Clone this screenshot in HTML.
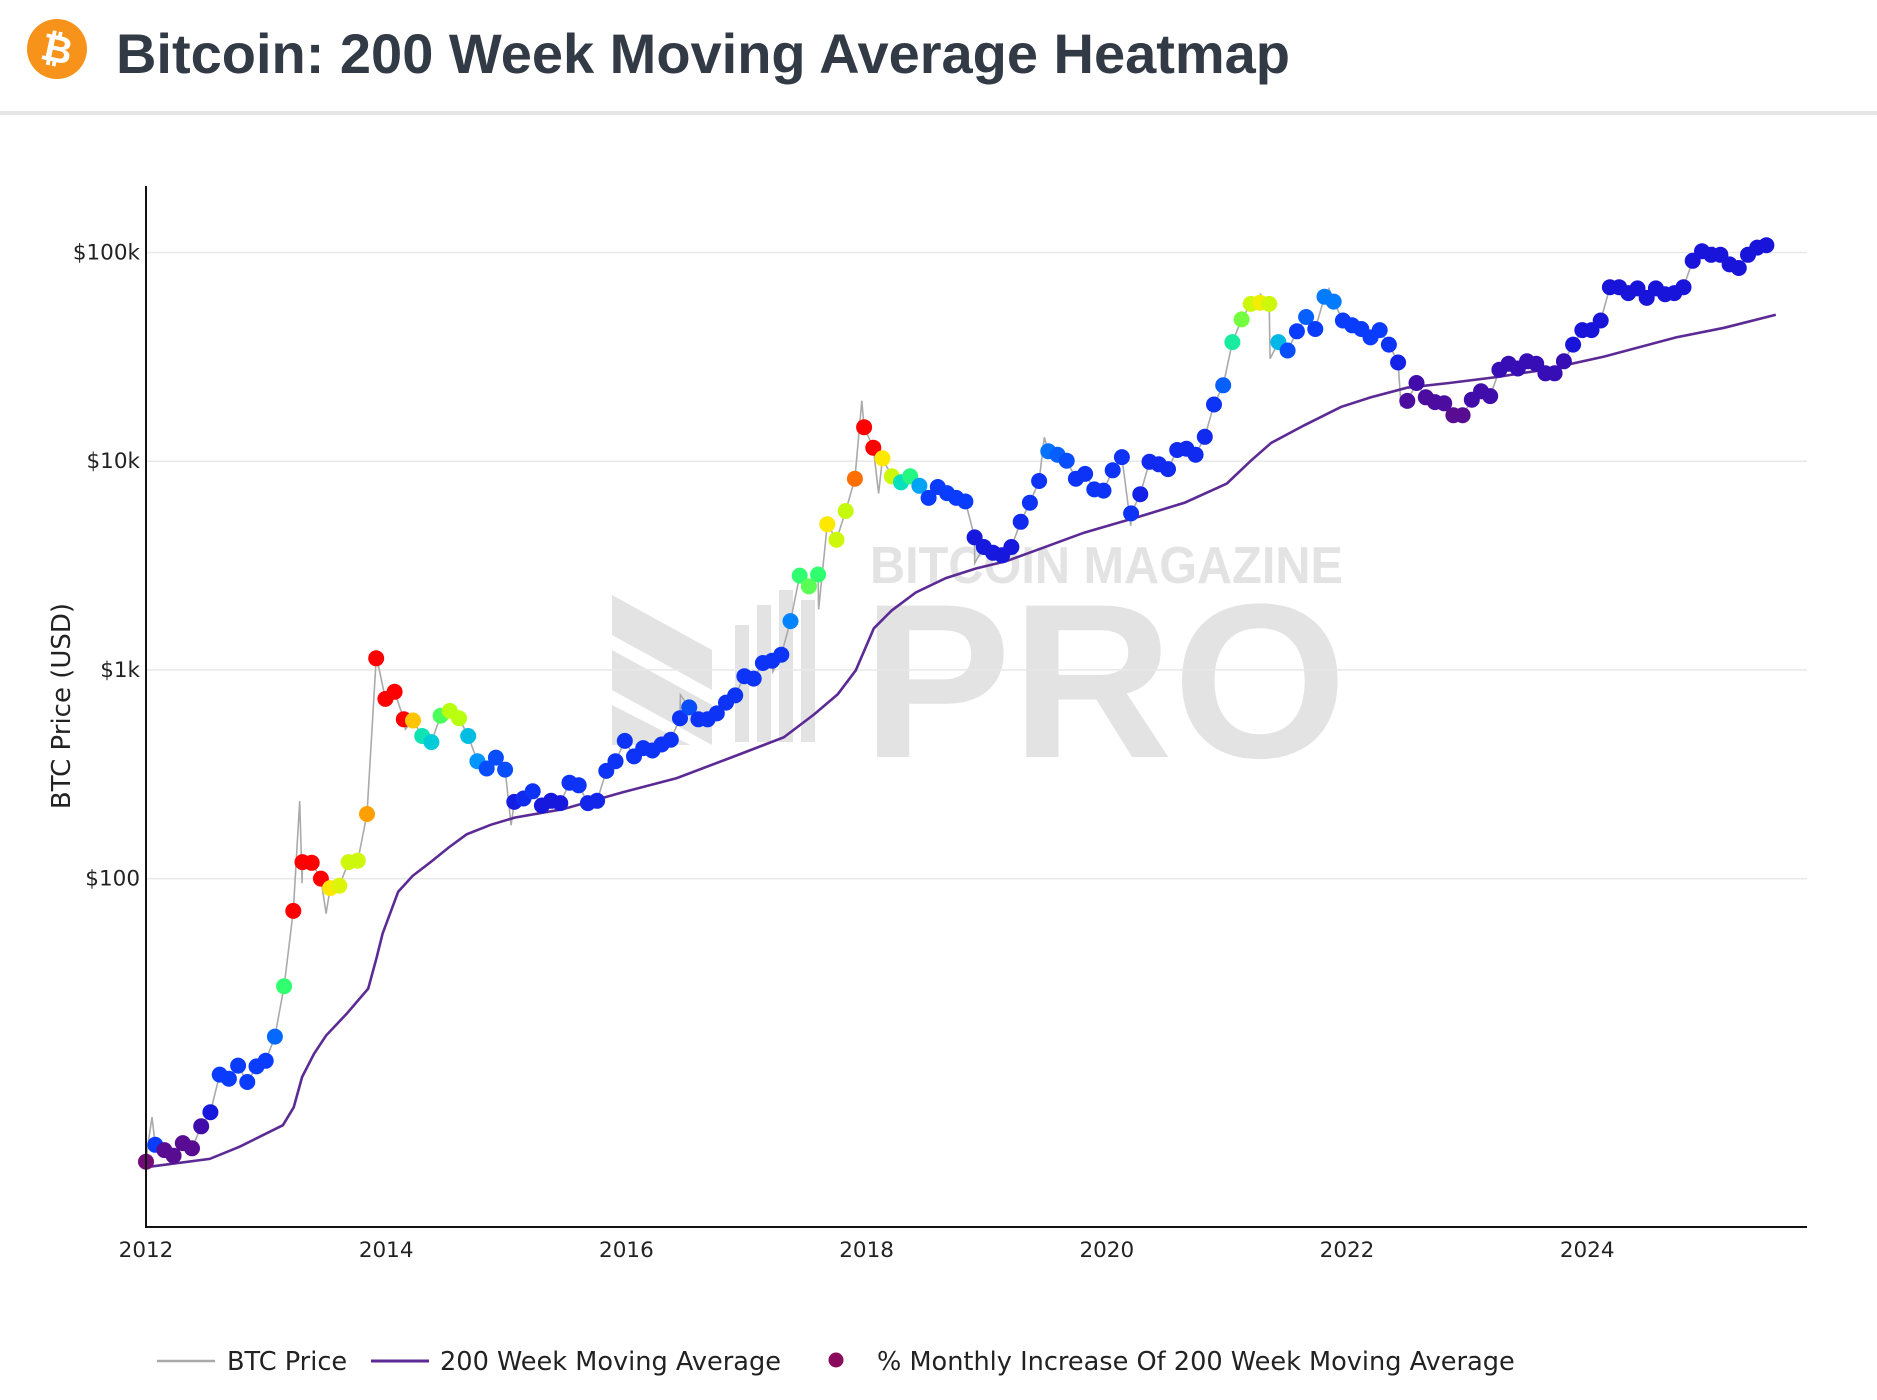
<!DOCTYPE html>
<html><head><meta charset="utf-8"><style>
html,body{margin:0;padding:0;background:#fff;}
svg{display:block;font-family:"DejaVu Sans","Liberation Sans",Arial,sans-serif;}
.title{font-family:"Liberation Sans",Arial,sans-serif;}
</style></head><body>
<svg id="chart" width="1877" height="1400" viewBox="0 0 1877 1400" xmlns="http://www.w3.org/2000/svg">
<g>
<circle cx="57" cy="49" r="30" fill="#f7931a"/>
<text class="title" x="57" y="62" font-size="38" font-weight="bold" fill="#fff" text-anchor="middle" transform="rotate(12 57 49)">₿</text>
<text class="title" x="116" y="73" font-size="56" font-weight="bold" fill="#323a45" textLength="1174" lengthAdjust="spacingAndGlyphs">Bitcoin: 200 Week Moving Average Heatmap</text>
<rect x="0" y="111" width="1877" height="4" fill="#e6e6e6"/>
</g>
<g fill="#e3e3e3">
<polygon points="612,595 712,650 712,690 612,635"/>
<polygon points="612,650 712,705 712,745 612,690"/>
<polygon points="612,705 690,745 612,745"/>
<rect x="735" y="625" width="14" height="117"/><rect x="757" y="605" width="14" height="137"/><rect x="779" y="590" width="14" height="152"/><rect x="801" y="600" width="14" height="142"/>
<text class="title" x="870" y="583" font-size="52" font-weight="bold" textLength="473" lengthAdjust="spacingAndGlyphs">BITCOIN MAGAZINE</text>
<text class="title" x="862" y="757" font-size="220" font-weight="bold" textLength="485" lengthAdjust="spacingAndGlyphs">PRO</text>
</g>
<g id="grid"></g>
<g id="lines"></g>
<g id="dots"></g>
<g id="axes"></g>
<text x="0" y="0" font-size="26" fill="#222" text-anchor="middle" transform="translate(70 706) rotate(-90)">BTC Price (USD)</text>
<g>
<g><line x1="157" y1="1361" x2="215" y2="1361" stroke="#aaa" stroke-width="2.5"/><text x="227" y="1370" font-size="25.6" fill="#222">BTC Price</text></g>
<g><line x1="371" y1="1361" x2="429" y2="1361" stroke="#5b2a94" stroke-width="3"/><text x="440" y="1370" font-size="25.6" fill="#222">200 Week Moving Average</text></g>
<g><circle cx="836" cy="1360" r="7.5" fill="#8a0a5c"/><text x="877" y="1370" font-size="25.6" fill="#222">% Monthly Increase Of 200 Week Moving Average</text></g>
</g>
</svg>
<script>
// ---- data ----
const dotStartYear = 2012.0;
const dotStepDays = 28;
const dotPrices = [4.4,5.3,5.0,4.7,5.4,5.1,6.5,7.6,11.5,11.0,12.7,10.6,12.6,13.4,17.5,30.5,70,120,119,100,90,92.5,120,122,204,
1137,726,785,580,572,482,451,603,636,587,482,365,337,380,333,233,242,262,224,236,230,288,280,230,236,
328,365,457,385,422,411,439,463,587,661,580,580,619,697,755,933,908,1079,1107,1183,1713,2830,2512,2864,4990,
4205,5770,8240,14550,11610,10320,8470,7925,8470,7620,6670,7520,7030,6670,6410,4315,3880,3640,3540,3880,5125,6325,8035,11170,10740,
10050,8240,8690,7330,7230,9040,10460,5620,6950,9930,9665,9165,11320,11480,10740,13090,18700,23100,37200,47800,56700,57500,56700,37200,33900,
41900,49100,43000,61400,58200,47200,44800,43000,39200,42500,36200,29700,19460,23700,20230,19190,18950,16610,16610,19720,21630,20510,27420,29310,27800,
30100,29310,26370,26370,30100,36200,42500,42500,47200,68200,68200,63900,67300,60600,67300,63100,63900,68200,91200,101400,97500,97500,87700,84300,97500,
105500,108400];
const dotHeat = [0.2,2,0.4,0.4,0.4,0.4,0.6,1.2,2,2,2,2,2,2,2.5,5,10,10,10,10,7,6.5,6.3,6.3,8,
10,10,10,10,7.5,4.3,3.8,5.2,6,6,3.6,3,2.2,2.2,2.2,1.3,1.6,1.8,1.2,1.2,1.2,1.8,1.8,1.5,1.5,
1.8,1.8,1.8,1.8,1.8,1.8,1.8,1.8,1.8,2.2,1.8,1.8,1.8,1.8,1.8,1.8,1.8,1.8,1.8,1.8,2.8,5,5.3,5,7,
6.3,6.2,8.5,10,10,7,6.3,4.2,4.8,3.2,2,2,2,2,2,1.2,1.2,1.2,1.2,1.2,1.6,1.8,1.8,2.6,2.4,
2.2,1.8,1.8,1.8,1.8,1.8,1.8,1.8,1.4,1.6,1.6,1.6,1.6,1.6,1.6,1.6,1.8,2.4,4.5,5.5,6.3,6.8,6.3,3.5,2.2,
2,2.4,2,2.7,2.7,2,2,2,2,2,1.8,1.4,0.5,0.6,0.5,0.5,0.5,0.4,0.4,0.6,0.6,0.6,0.7,0.7,0.7,
0.7,0.7,0.7,0.7,0.7,1.1,1.1,1.1,1.1,1.1,1.1,1.1,1.1,1.1,1.1,1.1,1.1,1.1,1.1,1.1,1.1,1.1,1.1,1.1,1.1,
1.1,1.1];
const spikeYears = [2012.02,2012.05,2013.28,2013.30,2013.50,2013.92,2014.16,2015.04,2016.45,2017.22,2017.60,2017.96,2018.10,2018.9,2019.48,2020.2,2021.28,2021.36,2021.85,2022.45,2024.2,2025.05];
const spikeValues = [5.5,7.2,235,95,68,1150,520,180,760,980,1950,19500,7000,3250,13000,4900,63000,31000,67000,18500,73000,106000];
const maYears = [2012.00,2012.53,2012.78,2013.14,2013.23,2013.30,2013.40,2013.50,2013.67,2013.85,2013.92,2013.97,2014.10,2014.22,2014.37,2014.52,2014.67,2014.87,2015.07,2015.47,2015.97,2016.42,2016.87,2017.31,2017.56,2017.76,2017.91,2018.06,2018.21,2018.41,2018.66,2018.91,2019.16,2019.46,2019.81,2020.26,2020.65,2021.00,2021.20,2021.37,2021.65,2021.95,2022.20,2022.50,2022.85,2023.25,2023.64,2024.14,2024.74,2025.14,2025.57];
const maValues = [4.14,4.54,5.19,6.58,8.02,11.2,14.5,17.7,22.5,29.7,41.8,54.5,86.5,103,120,141,163,181,196,215,259,303,380,475,611,765,996,1581,1928,2350,2754,3060,3315,3830,4545,5405,6330,7815,10050,12250,14930,18200,20230,22500,23700,25330,27420,31700,39200,43550,50350];
const xTickYears = [2012,2014,2016,2018,2020,2022,2024];
const yTickValues = [100,1000,10000,100000];
const yTickLabels = ["$100","$1k","$10k","$100k"];

// ---- scales ----
const X0=146, X1=1807, Y0=186, Y1=1227;
function xs(yr){return X0+(yr-2012)*120.1;}
function ys(p){return 878.6-(Math.log10(p)-2)*208.7;}
const stops=[[0,[138,10,92]],[0.5,[75,12,159]],[1,[26,15,214]],[2,[10,60,255]],[3,[0,150,255]],[4,[0,216,208]],[5,[48,255,112]],[6,[184,255,16]],[7,[255,232,0]],[8,[255,160,0]],[9,[255,64,0]],[10,[255,0,0]]];
function heatColor(v){
  for(let i=0;i<stops.length-1;i++){const a=stops[i],b=stops[i+1];
    if(v<=b[0]){const t=Math.max(0,(v-a[0])/(b[0]-a[0]));const c=a[1].map((k,j)=>Math.round(k+(b[1][j]-k)*t));return `rgb(${c.join(',')})`;}}
  return 'rgb(255,0,0)';
}
const NS='http://www.w3.org/2000/svg';
function mk(tag,attrs,parent){const e=document.createElementNS(NS,tag);for(const k in attrs)e.setAttribute(k,attrs[k]);parent.appendChild(e);return e;}
const grid=document.getElementById('grid'),lines=document.getElementById('lines'),dots=document.getElementById('dots'),axes=document.getElementById('axes');

yTickValues.forEach((v,i)=>{
  const g=mk('line',{x1:X0,x2:X1,y1:ys(v),y2:ys(v),stroke:'#e8e8e8','stroke-width':1.5},grid);
  
  
  const t=mk('text',{x:140,y:ys(v)+7,'font-size':21.5,'text-anchor':'end',fill:'#222'},axes);
  t.textContent=yTickLabels[i];
  
  
});
xTickYears.forEach(yr=>{
  const t=mk('text',{x:xs(yr),y:1257,'font-size':21.5,'text-anchor':'middle',fill:'#222'},axes);
  t.textContent=String(yr);
  
  
});
const ax1=mk('line',{x1:X0,x2:X0,y1:Y0,y2:Y1,stroke:'#111','stroke-width':2},axes);


const ax2=mk('line',{x1:X0-1,x2:X1,y1:Y1,y2:Y1,stroke:'#111','stroke-width':2},axes);



const dayYr=dotStepDays/365.25;
let pts=dotPrices.map((p,i)=>[dotStartYear+i*dayYr,p]);
spikeYears.forEach((y,i)=>pts.push([y,spikeValues[i]]));
pts.sort((a,b)=>a[0]-b[0]);
const pl=mk('polyline',{points:pts.map(p=>xs(p[0]).toFixed(1)+','+ys(p[1]).toFixed(1)).join(' '),fill:'none',stroke:'#aaaaaa','stroke-width':1.6},lines);


const ma=mk('polyline',{points:maYears.map((y,i)=>xs(y).toFixed(1)+','+ys(maValues[i]).toFixed(1)).join(' '),fill:'none',stroke:'#5b2a94','stroke-width':2.6},lines);



dotPrices.forEach((p,i)=>{
  const c=mk('circle',{cx:xs(dotStartYear+i*dayYr).toFixed(1),cy:ys(p).toFixed(1),r:8,fill:heatColor(dotHeat[i])},dots);
  
  
});
</script>
</body></html>
